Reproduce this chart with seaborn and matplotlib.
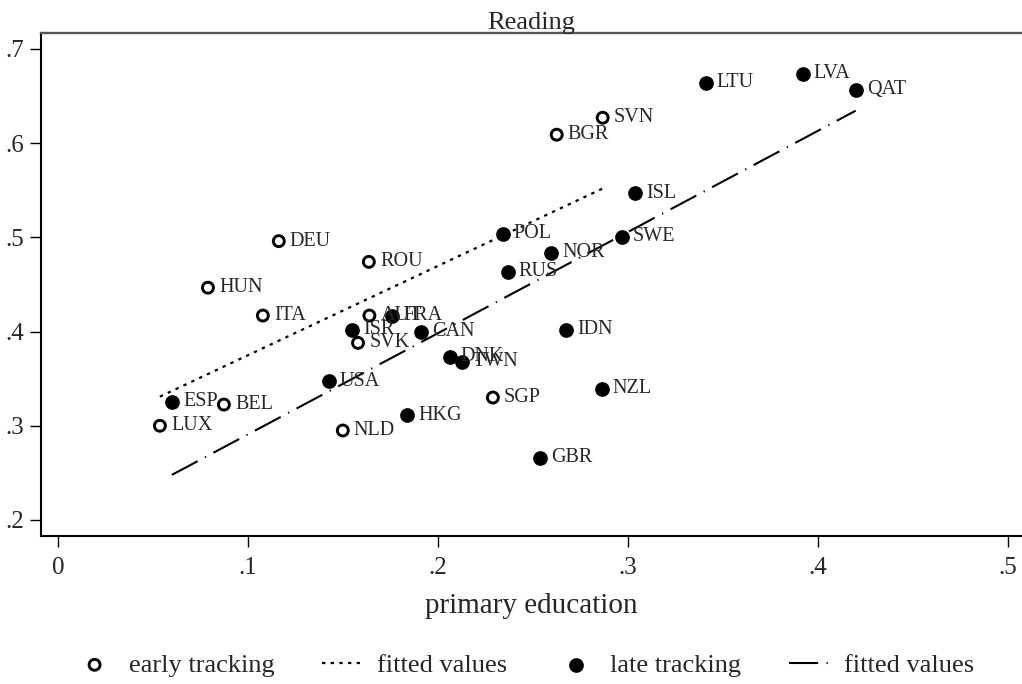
import numpy as np
import pandas as pd
import seaborn as sns
import matplotlib.pyplot as plt
from matplotlib.ticker import FuncFormatter

# early tracking countries (hollow markers)
early_cty = ['DEU', 'ROU', 'HUN', 'ITA', 'AUT', 'SVK', 'BEL', 'LUX', 'NLD', 'SGP', 'BGR', 'SVN']
early_x = [0.1163, 0.1637, 0.079, 0.1079, 0.164, 0.158, 0.0874, 0.0537, 0.150, 0.229, 0.2626, 0.2868]
early_y = [0.496, 0.474, 0.4466, 0.417, 0.417, 0.388, 0.3225, 0.300, 0.295, 0.330, 0.609, 0.627]

# late tracking countries (filled markers)
late_cty = ['LTU', 'LVA', 'QAT', 'ISL', 'SWE', 'NOR', 'RUS', 'POL', 'FRA', 'ISR', 'CAN',
            'DNK', 'TWN', 'USA', 'ESP', 'HKG', 'IDN', 'NZL', 'GBR']
late_x = [0.341, 0.392, 0.420, 0.3037, 0.2968, 0.2595, 0.2368, 0.2342, 0.1758, 0.1547, 0.191,
          0.2063, 0.2126, 0.1426, 0.060, 0.1837, 0.2674, 0.2863, 0.2537]
late_y = [0.664, 0.6735, 0.6565, 0.547, 0.5006, 0.4837, 0.4635, 0.504, 0.417, 0.402, 0.400,
          0.3734, 0.368, 0.347, 0.3257, 0.311, 0.402, 0.3394, 0.2663]

x_ticks = [0, 0.1, 0.2, 0.3, 0.4, 0.5]
y_ticks = [0.2, 0.3, 0.4, 0.5, 0.6, 0.7]

early = pd.DataFrame({'cty': early_cty, 'prim': early_x, 'read': early_y})
late = pd.DataFrame({'cty': late_cty, 'prim': late_x, 'read': late_y})

sns.set_style('white')
plt.rcParams['font.family'] = ['Liberation Serif', 'DejaVu Serif']

fig, ax = plt.subplots(figsize=(10.22, 6.84), dpi=100)
fig.subplots_adjust(left=0.0401, right=0.999, bottom=0.2164, top=0.9518)

sns.scatterplot(data=early, x='prim', y='read', ax=ax, marker='o', s=62,
                facecolor='none', edgecolor='black', linewidth=2.1,
                label='early tracking', zorder=3)
sns.regplot(data=early, x='prim', y='read', ax=ax, scatter=False, ci=None, truncate=True,
            color='black', label='fitted values',
            line_kws=dict(lw=1.6, linestyle=(0, (1.5, 2.4))))
sns.scatterplot(data=late, x='prim', y='read', ax=ax, marker='o', s=112,
                color='black', edgecolor='black', linewidth=0,
                label='late tracking', zorder=3)
sns.regplot(data=late, x='prim', y='read', ax=ax, scatter=False, ci=None, truncate=True,
            color='black', label='fitted values',
            line_kws=dict(lw=1.5, linestyle=(0, (14, 4, 0.6, 4))))

for df in (early, late):
    for _, r in df.iterrows():
        ax.annotate(r['cty'], (r['prim'], r['read']), xytext=(8, 0),
                    textcoords='offset points', va='center', ha='left', fontsize=14.5)

ax.set_xlim(-0.0089, 0.507)
ax.set_ylim(0.183, 0.717)
ax.set_xticks(x_ticks)
ax.set_yticks(y_ticks)
fmt = FuncFormatter(lambda v, p: '0' if abs(v) < 1e-9 else ('%.1f' % v).lstrip('0'))
ax.xaxis.set_major_formatter(fmt)
ax.yaxis.set_major_formatter(fmt)
ax.tick_params(axis='both', direction='out', length=8, width=1, color='black',
               labelsize=18, pad=4, left=True, bottom=True)
ax.tick_params(axis='x', pad=7)

for s in ['left', 'bottom']:
    ax.spines[s].set_color('black')
    ax.spines[s].set_linewidth(1.5)
ax.spines['top'].set_color('#555555')
ax.spines['top'].set_linewidth(1.7)
ax.spines['right'].set_visible(False)

ax.set_xlabel('primary education', fontsize=21, labelpad=10)
ax.set_ylabel('')
ax.set_title('Reading', fontsize=19, pad=3)

handles, labels = ax.get_legend_handles_labels()
if ax.legend_:
    ax.legend_.remove()
fig.legend(handles, labels, ncol=4, loc='center', bbox_to_anchor=(524 / 1022, 1 - 665 / 684),
           frameon=False, fontsize=19, handlelength=1.6, handletextpad=0.5,
           columnspacing=1.8, borderaxespad=0)

fig.savefig('out.png', dpi=100)
